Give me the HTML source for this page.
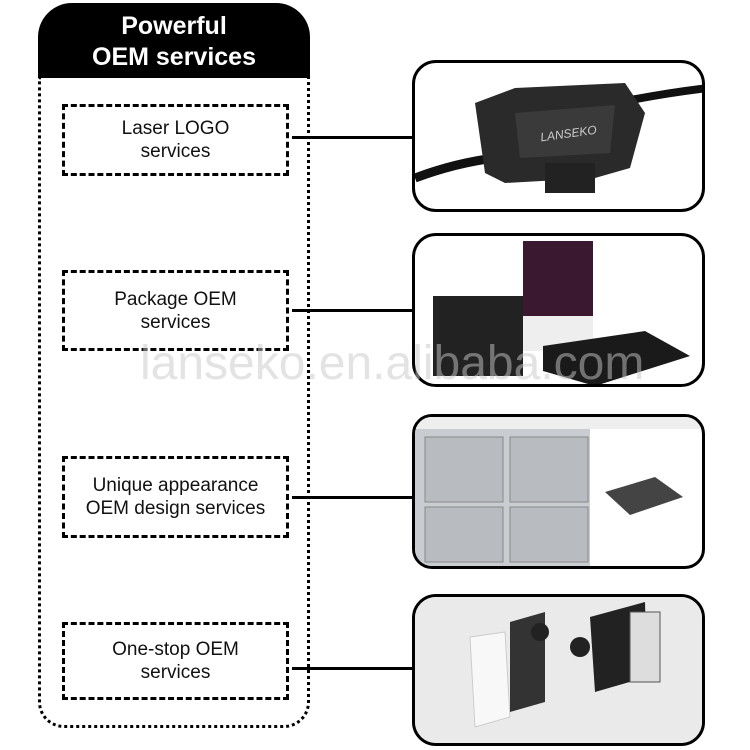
<!DOCTYPE html>
<html><head><style>
body{margin:0;width:750px;height:750px;background:#fff;overflow:hidden;font-family:"Liberation Sans",sans-serif;position:relative}
.abs{position:absolute}
.hdr{left:38px;top:3px;width:272px;height:75px;background:#000;border-radius:34px 34px 0 0;color:#fff;font-weight:bold;font-size:25px;text-align:center;line-height:31px;box-sizing:border-box;padding-top:8px}
.dot{left:38px;top:76px;width:272px;height:652px;border:3px dotted #000;border-top:none;border-radius:0 0 26px 26px;box-sizing:border-box}
.db{left:62px;width:227px;border:3px dashed #000;box-sizing:border-box;display:flex;align-items:center;justify-content:center;text-align:center;font-size:19px;line-height:23px;color:#111;background:#fff}
.ln{left:292px;width:121px;height:3px;background:#000}
.img{left:412px;width:293px;border:3px solid #000;border-radius:24px;box-sizing:border-box;overflow:hidden;background:#fff}
</style></head><body>
<div class="abs hdr">Powerful<br>OEM services</div>
<div class="abs dot"></div>
<div class="abs db" style="top:104px;height:72px">Laser LOGO<br>services</div>
<div class="abs db" style="top:270px;height:81px">Package OEM<br>services</div>
<div class="abs db" style="top:456px;height:82px">Unique appearance<br>OEM design services</div>
<div class="abs db" style="top:622px;height:78px">One-stop OEM<br>services</div>
<div class="abs ln" style="top:136px"></div>
<div class="abs ln" style="top:309px"></div>
<div class="abs ln" style="top:496px"></div>
<div class="abs ln" style="top:667px"></div>

<div class="abs img" style="top:60px;height:152px">
<svg width="293" height="152">
<path d="M0 115 Q40 100 80 95" stroke="#111" stroke-width="9" fill="none"/>
<path d="M200 40 Q250 30 293 25" stroke="#111" stroke-width="8" fill="none"/>
<polygon points="60,40 100,25 210,20 230,50 215,105 180,115 90,120 70,110" fill="#2a2a2a"/>
<polygon points="100,50 200,42 195,90 105,95" fill="#3a3a3a"/>
<rect x="130" y="100" width="50" height="30" fill="#222"/>
<text x="125" y="75" fill="#ccc" font-size="12" font-style="italic" transform="rotate(-8 150 70)">LANSEKO</text>
</svg></div>

<div class="abs img" style="top:233px;height:154px">
<svg width="293" height="154">
<rect x="108" y="5" width="70" height="110" fill="#3a1830"/>
<rect x="108" y="80" width="70" height="35" fill="#eee"/>
<rect x="18" y="60" width="90" height="80" fill="#222"/>
<polygon points="128,110 230,95 275,120 180,150 128,135" fill="#1a1a1a"/>
</svg></div>

<div class="abs img" style="top:414px;height:155px;border-radius:20px">
<svg width="293" height="155">
<rect x="0" y="0" width="175" height="155" fill="#c9ccd0"/>
<rect x="0" y="0" width="293" height="12" fill="#eee"/>
<rect x="10" y="20" width="78" height="65" fill="#b8bcc0" stroke="#888"/>
<rect x="95" y="20" width="78" height="65" fill="#b8bcc0" stroke="#888"/>
<rect x="10" y="90" width="78" height="55" fill="#b8bcc0" stroke="#888"/>
<rect x="95" y="90" width="78" height="55" fill="#b8bcc0" stroke="#888"/>
<polygon points="190,75 240,60 268,80 215,98" fill="#444"/>
</svg></div>

<div class="abs img" style="top:594px;height:152px">
<svg width="293" height="152">
<rect width="293" height="152" fill="#eaeaea"/>
<polygon points="55,40 90,35 95,120 60,130" fill="#f8f8f8" stroke="#ccc"/>
<polygon points="95,25 130,15 130,105 95,115" fill="#333"/>
<circle cx="125" cy="35" r="9" fill="#222"/><circle cx="165" cy="50" r="10" fill="#222"/>
<polygon points="175,20 230,5 232,80 180,95" fill="#222"/>
<rect x="215" y="15" width="30" height="70" fill="#ddd" stroke="#555"/>
</svg></div>

<div class="abs" style="left:140px;top:336px;font-size:48px;color:rgba(200,200,200,0.5)">lanseko.en.alibaba.com</div>
</body></html>
